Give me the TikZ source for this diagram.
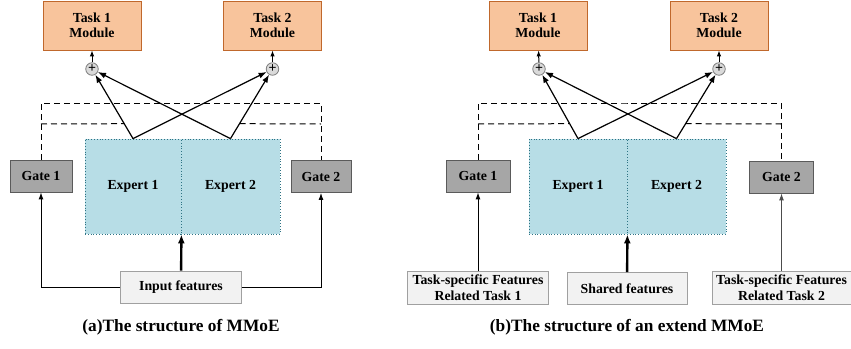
\documentclass[tikz,border=0pt]{standalone}
\usepackage{fontspec}
\setmainfont{Liberation Serif}[BoldFont={Liberation Serif Bold}]
\usepackage{xcolor}
\usetikzlibrary{calc,arrows.meta}
\definecolor{taskFill}{HTML}{F8C49C}
\definecolor{taskLine}{HTML}{C0682C}
\definecolor{gateFill}{HTML}{A6A6A6}
\definecolor{gateLine}{HTML}{5A5A5A}
\definecolor{expertFill}{HTML}{B7DDE6}
\definecolor{expertLine}{HTML}{2E7384}
\definecolor{featFill}{HTML}{F2F2F2}
\definecolor{featLine}{HTML}{A0A0A0}
\definecolor{sumFill}{HTML}{DADADA}
\definecolor{sumLine}{HTML}{808080}
\newcommand{\boxfont}{\rmfamily\bfseries\fontsize{13.8}{15.5}\selectfont}
\newcommand{\capfont}{\rmfamily\bfseries\fontsize{17.3}{20}\selectfont}
\tikzset{
  taskbox/.style={rectangle, draw=taskLine, fill=taskFill, line width=0.8pt, align=center, font=\boxfont, minimum width=98pt, minimum height=49pt, inner sep=2pt},
  gatebox/.style={rectangle, draw=gateLine, fill=gateFill, line width=0.8pt, align=center, font=\boxfont, minimum width=62pt, minimum height=32pt, inner sep=2pt},
  expertbox/.style={rectangle, draw=expertLine, fill=expertFill, dotted, line width=0.8pt, align=center, font=\boxfont, minimum height=95pt, inner sep=2pt},
  featbox/.style={rectangle, draw=featLine, fill=featFill, line width=0.8pt, align=center, font=\boxfont, minimum height=32pt, inner sep=2pt},
  sumnode/.style={circle, draw=sumLine, fill=sumFill, line width=0.8pt, minimum size=12.5pt, inner sep=0pt, font=\rmfamily\bfseries\fontsize{14}{14}\selectfont},
  flowarrow/.style={-{Latex[length=8pt,width=6pt]}, line width=1.2pt},
  sumarrow/.style={-{Latex[length=6pt,width=4.5pt]}, line width=1pt},
  featarrow/.style={-{Latex[length=7pt,width=5pt]}, line width=1pt},
  bigarrow/.style={-{Latex[length=9pt,width=7pt]}, line width=2.4pt},
  dashline/.style={dashed, dash pattern=on 6pt off 4pt, line width=1pt},
  caption/.style={font=\capfont},
}

\begin{document}
\begin{tikzpicture}[x=1pt,y=-1pt]
  \useasboundingbox (0,0) rectangle (851,348);
  % --- (a) MMoE ---
  \node[taskbox] (ta1) at (92,25.5) {Task 1\\Module};
  \node[taskbox] (ta2) at (272.5,25.5) {Task 2\\Module};
  \node[sumnode] (sa1) at (92,69) {+};
  \node[sumnode] (sa2) at (272.5,69) {+};
  \node[expertbox, minimum width=96pt] (ea1) at (133,186.5) {Expert 1};
  \node[expertbox, minimum width=99pt] (ea2) at (230.5,186.5) {Expert 2};
  \node[gatebox] (ga1) at (41,176) {Gate 1};
  \node[gatebox, minimum width=60pt] (ga2) at (321,176.5) {Gate 2};
  \node[featbox, minimum width=121pt] (ina) at (181,287) {Input features};
  \node[caption] (capa) at (181,327) {(a)The structure of MMoE};
  \coordinate (topa) at (181,103);
  \coordinate (mida) at (181,124);
  \draw[dashline] (ga1.north) |- (topa) -| (ga2.north);
  \draw[dashline] (ga1.north |- mida) -- ($(ea1.north)!0.2143!(sa1.center)$);
  \draw[dashline] ($(ea2.north)!0.2143!(sa2.center)$) -- (ga2.north |- mida);
  \draw[flowarrow] (ea1.north) -- (sa1);
  \draw[flowarrow] (ea1.north) -- (sa2);
  \draw[flowarrow] (ea2.north) -- (sa1);
  \draw[flowarrow] (ea2.north) -- (sa2);
  \draw[sumarrow] (sa1) -- (ta1);
  \draw[sumarrow] (sa2) -- (ta2);
  \draw[bigarrow] (ina) -- (ea1.south east);
  \draw[featarrow] (ina.west) -| (ga1.south);
  \draw[featarrow] (ina.east) -| (ga2.south);
  % --- (b) extended MMoE ---
  \node[taskbox] (tb1) at (538,25.5) {Task 1\\Module};
  \node[taskbox] (tb2) at (719,25.5) {Task 2\\Module};
  \node[sumnode] (sb1) at (539,69) {+};
  \node[sumnode] (sb2) at (719,69) {+};
  \node[expertbox, minimum width=98pt] (eb1) at (578,186.5) {Expert 1};
  \node[expertbox, minimum width=99pt] (eb2) at (676.5,186.5) {Expert 2};
  \node[gatebox, minimum width=64pt] (gb1) at (478,176) {Gate 1};
  \node[gatebox, minimum width=64pt] (gb2) at (781.5,177) {Gate 2};
  \node[featbox, minimum width=141pt, minimum height=33pt] (fb1) at (478,287.5) {Task-specific Features\\Related Task 1};
  \node[featbox, minimum width=120pt] (shb) at (627,288.5) {Shared features};
  \node[featbox, minimum width=139pt, minimum height=33pt] (fb2) at (781.5,287.5) {Task-specific Features\\Related Task 2};
  \node[caption] (capb) at (627,327) {(b)The structure of an extend MMoE};
  \coordinate (topb) at (627,103);
  \coordinate (midb) at (627,124);
  \draw[dashline] (gb1.north) |- (topb) -| (gb2.north);
  \draw[dashline] (gb1.north |- midb) -- ($(eb1.north)!0.2143!(sb1.center)$);
  \draw[dashline] ($(eb2.north)!0.2143!(sb2.center)$) -- (gb2.north |- midb);
  \draw[flowarrow] (eb1.north) -- (sb1);
  \draw[flowarrow] (eb1.north) -- (sb2);
  \draw[flowarrow] (eb2.north) -- (sb1);
  \draw[flowarrow] (eb2.north) -- (sb2);
  \draw[sumarrow] (sb1) -- (tb1);
  \draw[sumarrow] (sb2) -- (tb2);
  \draw[bigarrow] (shb) -- (eb1.south east);
  \draw[featarrow] (fb1) -- (gb1);
  \draw[featarrow, draw=black!70, fill=black!70] (fb2) -- (gb2);
\end{tikzpicture}
\end{document}
